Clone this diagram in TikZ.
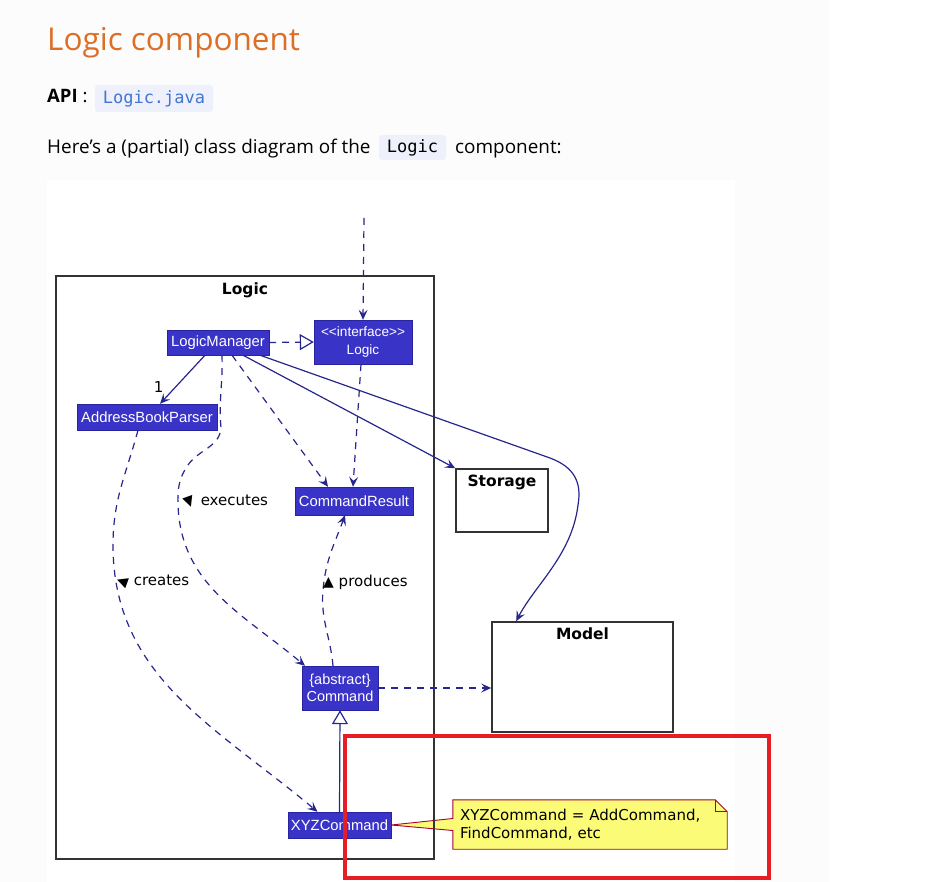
\documentclass[tikz,border=0pt]{standalone}
\usepackage{fontspec}
\setmainfont{Open Sans}
\newfontfamily\umlfont{Liberation Sans}
\newfontfamily\labelfont{DejaVu Sans}
\newfontfamily\codefont{DejaVu Sans Mono}
\usetikzlibrary{arrows.meta, positioning, calc, backgrounds}

\definecolor{pagebg}{RGB}{252,252,252}
\definecolor{titleorange}{RGB}{221,110,38}
\definecolor{codebg}{RGB}{238,240,251}
\definecolor{codeblue}{RGB}{66,118,208}
\definecolor{clsblue}{RGB}{57,52,199}
\definecolor{clsborder}{RGB}{40,36,160}
\definecolor{linkblue}{RGB}{38,38,140}
\definecolor{pkggray}{RGB}{51,51,51}
\definecolor{noteyellow}{RGB}{251,251,119}
\definecolor{noteborder}{RGB}{168,0,54}
\definecolor{markred}{RGB}{232,28,36}

\tikzset{
  cls/.style={draw=clsborder, fill=clsblue, text=white, inner sep=0pt, align=center,
    font=\umlfont\fontsize{14.8}{17}\selectfont},
  comp/.style={draw=pkggray, line width=1.6pt, fill=white, inner sep=0pt},
  comptitle/.style={anchor=north, inner sep=6.5pt, font=\labelfont\bfseries\fontsize{15.5}{18}\selectfont},
  lbl/.style={inner sep=1pt, font=\labelfont\fontsize{15}{18}\selectfont},
  code/.style={fill=codebg, rounded corners=3pt, inner sep=0pt, font=\codefont\fontsize{17}{20}\selectfont},
  dep/.style={draw=linkblue, line width=1.2pt, dash pattern=on 7pt off 6pt,
    -{Stealth[length=10pt, width=9pt, inset=4pt]}},
  assoc/.style={draw=linkblue, line width=1.2pt, -{Stealth[length=10pt, width=9pt, inset=4pt]}},
  real/.style={draw=linkblue, line width=1.2pt, dash pattern=on 7pt off 6pt,
    -{Triangle[open, fill=white, length=14pt, width=16pt]}},
  gen/.style={draw=linkblue, line width=1.2pt, -{Triangle[open, fill=white, length=14pt, width=16pt]}},
}

\newcommand{\dirmark}[2]{\rotatebox[origin=c]{#1}{\fontsize{14}{14}\selectfont #2}}

\begin{document}
\begin{tikzpicture}[x=1pt, y=-1pt]
  \useasboundingbox (0,0) rectangle (948,882);

  % page and picture background
  \begin{scope}[on background layer]
    \fill[pagebg] (0,0) rectangle (830,882);
    \fill[white] (830,0) rectangle (948,882);
    \fill[white] (47,180) rectangle (735,882);
  \end{scope}

  % heading and text
  \node[anchor=base west, inner sep=0pt, text=titleorange, font=\fontsize{31.5}{38}\selectfont] (title) at (47,51) {Logic component};
  \node[anchor=base west, inner sep=0pt, font=\fontsize{18.5}{22}\selectfont] (api) at (47,103) {\textbf{API} :};
  \node[code, text=codeblue, minimum width=118pt, minimum height=27pt] (apifile) at (154,98.5) {Logic.java};
  \node[anchor=base west, inner sep=0pt, font=\fontsize{18.9}{22}\selectfont] (intro) at (47,154) {Here’s a (partial) class diagram of the};
  \node[code, minimum width=67pt, minimum height=25pt] (introcode) at (412.5,147.5) {Logic};
  \node[anchor=base west, inner sep=0pt, font=\fontsize{18.9}{22}\selectfont] (introend) at (455,154) {component:};

  % logic package
  \node[draw=pkggray, line width=2pt, minimum width=378pt, minimum height=583pt,
    label={[comptitle, inner sep=8pt]north:Logic}] (logicpkg) at (245,567.5) {};

  % classes
  \node[cls, minimum width=102pt, minimum height=25pt] (manager) at (218,342.5) {LogicManager};
  \node[cls, minimum width=98pt, minimum height=44pt, font=\umlfont\fontsize{13.6}{18}\selectfont] (logic) at (363,342) {\textless\textless interface\textgreater\textgreater\\Logic};
  \node[cls, minimum width=140pt, minimum height=26pt] (parser) at (147,417) {AddressBookParser};
  \node[cls, minimum width=118pt, minimum height=28pt] (result) at (354,501) {CommandResult};
  \node[cls, minimum width=76pt, minimum height=44pt, font=\umlfont\fontsize{14.5}{17}\selectfont] (command) at (340,688) {\{abstract\}\\Command};
  \node[cls, minimum width=103pt, minimum height=26pt] (xyz) at (339.5,825) {XYZCommand};

  % other components
  \node[comp, minimum width=92pt, minimum height=63pt, label={[comptitle]north:Storage}] (storage) at (502,500.5) {};
  \node[comp, minimum width=181pt, minimum height=110pt, label={[comptitle]north:Model}] (model) at (582.5,677) {};

  % connectors
  \coordinate (entry) at (364,218);
  \draw[dep] (entry) -- (logic.north);
  \draw[real] (manager.east) -- (logic.west);
  \draw[assoc] ([xshift=-13pt]manager.south) -- ([xshift=13pt]parser.north)
    node[lbl, pos=0.8, anchor=south east, xshift=-4pt] {1};
  \draw[dep] ([xshift=14pt]manager.south) -- ([xshift=-26pt]result.north);
  \draw[dep] ([xshift=-2pt]logic.south) -- ([xshift=-1pt]result.north);
  \draw[assoc] ([xshift=25pt]manager.south) -- (storage.north west);
  \draw[assoc] ([xshift=42pt]manager.south) -- (550,458)
    .. controls (574,467) and (582,482) .. (578,505)
    .. controls (572,555) and (535,585) .. ([xshift=25pt]model.north west);
  \draw[dep] ([xshift=4pt]manager.south) to[out=-88, in=95] (221,428)
    to[out=-95, in=55] (188,465) to[out=-125, in=92] (178,505)
    to[out=-88, in=140] ([xshift=-35pt]command.north);
  \draw[dep] ([xshift=-9pt]parser.south) to[out=-105, in=90] (113,545)
    to[out=-90, in=140] ([xshift=-22pt]xyz.north);
  \draw[dep] ([xshift=-7pt]command.north) to[out=95, in=-95] (323,590)
    to[out=85, in=-110] ([xshift=-9pt]result.south);
  \draw[dep] (command.east) -- (command.east -| model.west);
  \draw[gen] (xyz.north) -- (command.south);

  % connector labels
  \node[lbl, anchor=west] (execlabel) at (181,502) {\dirmark{20}{▼}\ executes};
  \node[lbl, anchor=west] (createlabel) at (114,582) {\dirmark{-20}{◀}\ creates};
  \node[lbl, anchor=west] (producelabel) at (322,582) {\dirmark{0}{▲}\ produces};

  % note
  \node[lbl, inner sep=0pt, minimum width=274pt, minimum height=49pt, align=left,
    text width=260pt, font=\labelfont\fontsize{15}{18}\selectfont] (note) at (590,824.5)
    {XYZCommand = AddCommand,\\FindCommand, etc};
  \begin{scope}[on background layer]
    \draw[noteborder, fill=noteyellow, line width=0.9pt] (note.north west)
      -- ([xshift=-12pt]note.north east) -- ([yshift=-12pt]note.north east)
      -- (note.south east) -- (note.south west) -- ([yshift=-6pt]note.west)
      -- (xyz.east) -- ([yshift=6pt]note.west) -- cycle;
    \draw[noteborder, line width=0.9pt] ([xshift=-12pt]note.north east)
      -- ([xshift=-12pt, yshift=-12pt]note.north east) -- ([yshift=-12pt]note.north east);
  \end{scope}

  % highlight
  \node[draw=markred, line width=4pt, minimum width=424pt, minimum height=142pt] (highlight) at (557,807) {};
\end{tikzpicture}
\end{document}
